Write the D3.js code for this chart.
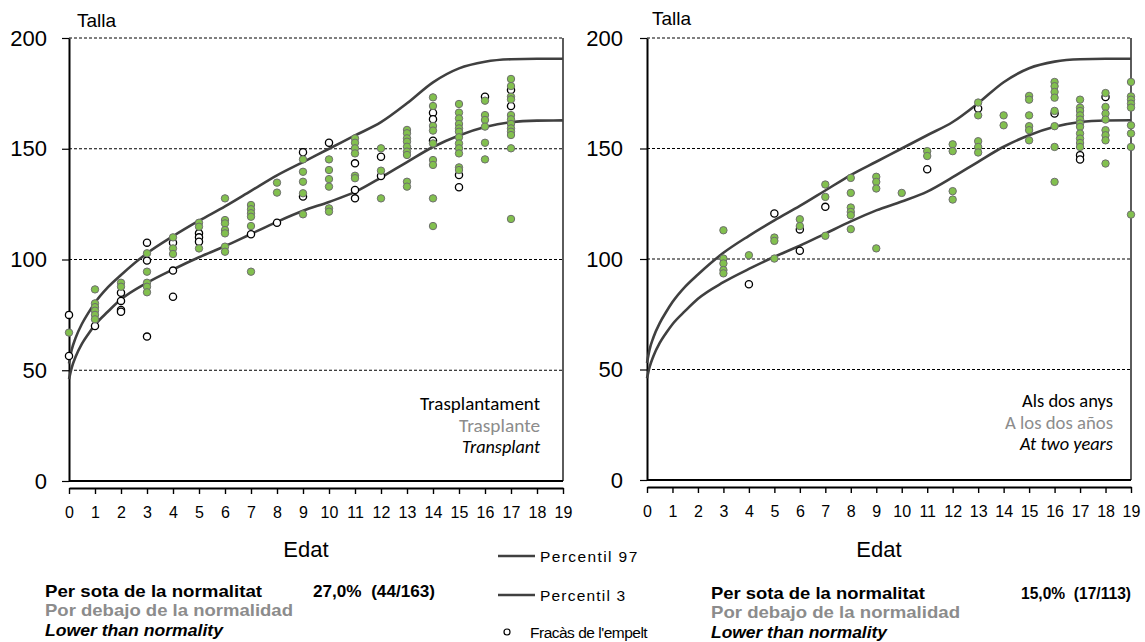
<!DOCTYPE html>
<html>
<head>
<meta charset="utf-8">
<script src="https://cdn.jsdelivr.net/npm/d3@7"></script>
<style>
  html, body { margin: 0; padding: 0; background: #fff; }
  svg { display: block; }
</style>
</head>
<body>
<script>
// ---------------- DATA ----------------
const xTicks = d3.range(0, 20);
const yTicks = [0, 50, 100, 150, 200];

const pctAges = [0, 0.1, 0.25, 0.5, 0.75, 1, 1.5, 2, 3, 4, 5, 6, 7, 8, 9, 10, 11, 12, 13, 14, 15, 16, 17, 18, 19];
const p97 = [53, 59, 64.5, 71, 76, 80.5, 87.5, 93, 102.8, 110.5, 117.5, 124, 131, 138, 144, 150, 156, 162, 170.5, 180, 186.3, 189.3, 190.4, 190.6, 190.6];
const p3  = [46, 51, 56, 62, 66.5, 70.5, 76.5, 82, 89.5, 95.5, 101, 106, 111.5, 117, 122, 126, 130.5, 137, 144, 150.8, 156, 159.8, 162, 162.7, 162.8];

// Transplant chart: [age, height]
const transplantOk = [
  [0,67],
  [1,86.5],[1,80.2],[1,78.5],[1,76.9],[1,75],[1,73],
  [2,89.5],[2,87.7],
  [3,102.8],[3,94.5],[3,89.5],[3,87.7],[3,85.2],
  [4,110],[4,105],[4,102.5],
  [5,116.6],[5,114.8],[5,105],
  [6,127.6],[6,117.8],[6,116.3],[6,113.3],[6,111.8],[6,105.8],[6,103.5],
  [7,124.6],[7,122.7],[7,120.9],[7,119.3],[7,115.1],[7,94.5],
  [8,134.7],[8,130.2],
  [9,145.2],[9,139.6],[9,135.1],[9,129.9],[9,120.4],
  [10,145.2],[10,140.4],[10,136.3],[10,132.9],[10,123.1],[10,121.6],
  [11,154.7],[11,152.7],[11,150.2],[11,147.9],[11,137.8],[11,136.7],
  [12,150.2],[12,140.1],[12,127.6],
  [13,158.5],[13,157],[13,154.7],[13,153.2],[13,150.9],[13,148.7],[13,147.2],[13,135.1],[13,132.9],
  [14,173.2],[14,169.3],[14,160.3],[14,158.2],[14,152.4],[14,144.9],[14,142.7],[14,127.6],[14,115.1],
  [15,170.2],[15,166.3],[15,163.7],[15,161.2],[15,159.2],[15,157.7],[15,155.2],[15,152.4],[15,150.2],[15,147.9],[15,141.6],[15,140.4],
  [16,171.7],[16,165.2],[16,163],[16,160],[16,152.7],[16,145.2],
  [17,181.5],[17,178.3],[17,173.5],[17,172.3],[17,165.2],[17,163.3],[17,161.2],[17,159.2],[17,157.7],[17,156.2],[17,150.2],[17,118.3]
];
const transplantFail = [
  [0,75],[0,56.4],
  [1,70],
  [2,85],[2,81.3],[2,77.2],[2,76.4],
  [3,107.6],[3,99.5],[3,65.2],
  [4,107.6],[4,95],[4,83.2],
  [5,111.8],[5,110],[5,108],
  [7,111.4],
  [8,116.6],
  [9,148.4],[9,128.4],
  [10,152.7],
  [11,143.4],[11,131.4],[11,127.6],
  [12,146.4],[12,137.7],
  [14,166.3],[14,163.3],[14,153.6],
  [15,138.1],[15,132.6],
  [16,173.5],
  [17,176.5],[17,169.3]
];

// Two-years chart: [age, height]
const twoYearsOk = [
  [3,113],[3,100.2],[3,98],[3,95],[3,93.5],
  [4,101.7],
  [5,109.7],[5,108.2],[5,100.2],
  [6,118],[6,114.9],
  [7,133.7],[7,128.1],[7,110.5],
  [8,136.7],[8,129.9],[8,123.3],[8,121.3],[8,119.8],[8,113.5],
  [9,137.2],[9,134.9],[9,131.9],[9,104.8],
  [10,129.9],
  [11,148.8],[11,146.6],
  [12,151.9],[12,148.8],[12,130.7],[12,126.9],
  [13,170.8],[13,165],[13,153.3],[13,150.7],[13,148.2],
  [14,165],[14,160.5],
  [15,173.8],[15,172.1],[15,165],[15,160.1],[15,158.3],[15,153.7],
  [16,180.1],[16,178.2],[16,175.6],[16,173],[16,167],[16,160.1],[16,150.7],[16,134.9],
  [17,172.1],[17,168.5],[17,167],[17,165],[17,163.1],[17,161.3],[17,159.8],[17,156.8],[17,154.5],[17,152.5],[17,150.7],
  [18,175.1],[18,168.8],[18,165.8],[18,163.1],[18,158.3],[18,156],[18,153.7],[18,143.2],
  [19,180.1],[19,173.6],[19,172.1],[19,170.3],[19,168.5],[19,160.5],[19,156.8],[19,150.7],[19,120.1]
];
const twoYearsFail = [
  [4,88.6],
  [5,120.6],
  [6,113.4],[6,103.7],
  [7,123.6],
  [11,140.6],
  [13,168.1],
  [16,165.8],
  [17,147],[17,145],
  [18,173.3]
];

const charts = [
  { x0: 69, x1: 563, yTop: 38, yBot: 481, axisY: 488, tallaX: 77, tallaY: 27, pad: 15,
    ok: transplantOk, fail: transplantFail,
    tagRight: 540, tagY: [410, 432, 453], tagW: [120, 81, 78],
    tags: ["Trasplantament", "Trasplante", "Transplant"],
    stat: ["Per sota de la normalitat", "Por debajo de la normalidad", "Lower than normality"],
    statX: 45, statY: [597, 616, 636], statW: [217, 248, 178],
    pct: "27,0%  (44/163)", pctX: 313, pctW: 122 },
  { x0: 647, x1: 1131, yTop: 38, yBot: 480, axisY: 487, tallaX: 652, tallaY: 25, pad: 17,
    ok: twoYearsOk, fail: twoYearsFail,
    tagRight: 1113, tagY: [407, 429, 450], tagW: [91, 108, 93],
    tags: ["Als dos anys", "A los dos años", "At two years"],
    stat: ["Per sota de la normalitat", "Por debajo de la normalidad", "Lower than normality"],
    statX: 711, statY: [599, 618, 638], statW: [214, 249, 176],
    pct: "15,0%  (17/113)", pctX: 1021, pctW: 110 }
];

// ---------------- DRAW ----------------
const W = 1145, H = 642;
const svg = d3.select("body").append("svg").attr("width", W).attr("height", H)
  .style("font-family", "'Liberation Sans', Arial, sans-serif");

const tagColors = ["#000", "#8c8c8c", "#000"];
const statColors = ["#000", "#8c8c8c", "#000"];

charts.forEach(c => {
  const x = d3.scaleLinear().domain([0, 19]).range([c.x0, c.x1]);
  const y = d3.scaleLinear().domain([0, 200]).range([c.yBot, c.yTop]);
  const g = svg.append("g");

  // dashed gridlines
  g.selectAll("line.grid").data([50, 100, 150, 200]).join("line")
    .attr("x1", c.x0).attr("x2", c.x1)
    .attr("y1", d => y(d)).attr("y2", d => y(d))
    .attr("stroke", "#000").attr("stroke-width", 1).attr("stroke-dasharray", "3,2");

  // right border
  g.append("line").attr("x1", c.x1).attr("x2", c.x1).attr("y1", y(200)).attr("y2", y(0))
    .attr("stroke", "#333").attr("stroke-width", 1.6);
  // bottom border
  g.append("line").attr("x1", c.x0).attr("x2", c.x1).attr("y1", y(0)).attr("y2", y(0))
    .attr("stroke", "#000").attr("stroke-width", 2);

  // y axis
  const yAxis = d3.axisLeft(y).tickValues(yTicks).tickSize(7).tickSizeOuter(0).tickPadding(c.pad);
  const ya = g.append("g").attr("transform", `translate(${c.x0},0)`).call(yAxis);
  ya.select(".domain").attr("stroke", "#000").attr("stroke-width", 2);
  ya.selectAll(".tick line").attr("stroke", "#000").attr("stroke-width", 1.2);
  ya.selectAll(".tick text").attr("font-size", 22).attr("fill", "#000")
    .attr("font-family", "'Liberation Sans', Arial, sans-serif");

  // x axis (offset below plot)
  const xAxis = d3.axisBottom(x).tickValues(xTicks).tickSize(6).tickSizeOuter(0).tickPadding(13);
  const xa = g.append("g").attr("transform", `translate(0,${c.axisY})`).call(xAxis);
  xa.select(".domain").attr("stroke", "#000").attr("stroke-width", 2.2);
  xa.selectAll(".tick line").attr("stroke", "#000").attr("stroke-width", 1.4);
  xa.selectAll(".tick text").attr("font-size", 16).attr("fill", "#000")
    .attr("font-family", "'Liberation Sans', Arial, sans-serif");

  // percentile curves
  const line = d3.line().x(d => x(d[0])).y(d => y(d[1])).curve(d3.curveMonotoneX);
  [p97, p3].forEach(arr => {
    g.append("path").datum(pctAges.map((a, i) => [a, arr[i]]))
      .attr("d", line).attr("fill", "none").attr("stroke", "#404040").attr("stroke-width", 2.6);
  });

  // points
  g.selectAll("circle.fail").data(c.fail).join("circle")
    .attr("cx", d => x(d[0])).attr("cy", d => y(d[1])).attr("r", 3.6)
    .attr("fill", "#fff").attr("stroke", "#000").attr("stroke-width", 1.3);
  g.selectAll("circle.ok").data(c.ok).join("circle")
    .attr("cx", d => x(d[0])).attr("cy", d => y(d[1])).attr("r", 3.7)
    .attr("fill", "#82c04e").attr("stroke", "#6e6e6e").attr("stroke-width", 1);

  // Talla
  g.append("text").attr("x", c.tallaX).attr("y", c.tallaY).attr("font-size", 19).text("Talla");
  // Edat
  g.append("text").attr("x", (c.x0 + c.x1) / 2 - 10).attr("y", 557).attr("text-anchor", "middle")
    .attr("font-size", 22).text("Edat");

  // inner tags
  c.tags.forEach((t, i) => {
    g.append("text").attr("x", c.tagRight).attr("y", c.tagY[i]).attr("text-anchor", "end")
      .attr("font-family", "Carlito, Lato, 'Open Sans', sans-serif").attr("font-size", 17.5)
      .attr("font-style", i === 2 ? "italic" : "normal")
      .attr("textLength", c.tagW[i]).attr("lengthAdjust", "spacingAndGlyphs")
      .attr("fill", tagColors[i]).text(t);
  });

  // stats
  c.stat.forEach((t, i) => {
    g.append("text").attr("x", c.statX).attr("y", c.statY[i]).attr("font-size", 17)
      .attr("font-weight", "bold").attr("font-style", i === 2 ? "italic" : "normal")
      .attr("fill", statColors[i]).attr("textLength", c.statW[i]).attr("lengthAdjust", "spacingAndGlyphs").text(t);
  });
  g.append("text").attr("x", c.pctX).attr("y", c.statY[0]).attr("font-size", 17)
    .attr("font-weight", "bold").attr("textLength", c.pctW).attr("lengthAdjust", "spacingAndGlyphs")
    .style("white-space", "pre").text(c.pct);
});

// legend
const legend = svg.append("g");
const legendItems = [
  { label: "Percentil 97", y: 556, kind: "line", ls: 1.4 },
  { label: "Percentil 3", y: 595, kind: "line", ls: 1.2 },
  { label: "Fracàs de l'empelt", y: 632, kind: "circle", ls: -0.5 }
];
legendItems.forEach(it => {
  if (it.kind === "line") {
    legend.append("line").attr("x1", 498).attr("x2", 535).attr("y1", it.y).attr("y2", it.y)
      .attr("stroke", "#404040").attr("stroke-width", 2.6);
  } else {
    legend.append("circle").attr("cx", 507).attr("cy", it.y).attr("r", 3)
      .attr("fill", "#fff").attr("stroke", "#000").attr("stroke-width", 1.2);
  }
  legend.append("text").attr("x", it.kind === "line" ? 540 : 530).attr("y", it.y + 6)
    .attr("font-size", 15.5).attr("letter-spacing", it.ls).text(it.label);
});
</script>
</body>
</html>
